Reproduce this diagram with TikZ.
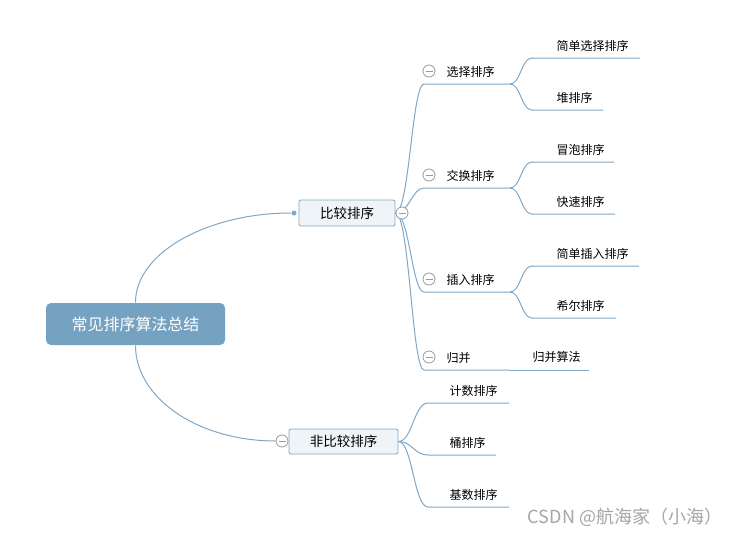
\documentclass[tikz,border=0pt]{standalone}
\usepackage{fontspec}
\newfontfamily\cjk{Noto Sans CJK SC}
\definecolor{linec}{HTML}{7FA8C8}
\definecolor{rootc}{HTML}{75A2C0}
\definecolor{subc}{HTML}{EEF4F8}
\definecolor{foldc}{HTML}{9A9A9A}
\definecolor{markc}{HTML}{A6A6A6}

\begin{document}
\begin{tikzpicture}[x=1pt,y=-1pt,line width=1pt,
  link/.style={draw=linec,line width=1pt},
  rootbox/.style={rounded corners=5pt,fill=rootc,text=white,font=\cjk\fontsize{16}{18}\selectfont,
    minimum width=179pt,minimum height=42pt,inner sep=0pt},
  subbox/.style={rounded corners=2pt,draw=linec,line width=0.8pt,fill=subc,
    font=\cjk\fontsize{13.5}{16}\selectfont,minimum height=26pt,inner sep=0pt},
  topic/.style={anchor=west,inner sep=0pt,font=\cjk\fontsize{12}{14}\selectfont},
  fold/.style={circle,draw=foldc,fill=white,line width=0.8pt,minimum size=12pt,inner sep=0pt,
    path picture={\draw[foldc,line width=0.8pt] ([xshift=-3.5pt]path picture bounding box.center)
      -- ([xshift=3.5pt]path picture bounding box.center);}}]
% ---------- 背景 ----------
\fill[white] (0,0) rectangle (740,538);
\useasboundingbox (0,0) rectangle (740,538);
% ---------- 中心主题与二级主题 ----------
\node[rootbox] (root) at (135.5,324) {常见排序算法总结};
\node[subbox,minimum width=96pt] (cmp) at (347,213) {比较排序};
\node[subbox,minimum width=109pt,minimum height=25pt] (ncmp) at (343.5,441.5) {非比较排序};
\node[circle,fill=linec,inner sep=0pt,minimum size=5pt] (cmp-dot) at (294,213) {};
\node[fold] (ncmp-fold) at (282,441) {};
\draw[link] (root.north) .. controls +(0,-50) and +(-86,0) .. (cmp-dot);
\draw[link] (root.south) .. controls +(0,53) and +(-77,0) .. (ncmp-fold.west);
% ---------- 比较排序的分支 ----------
\foreach \nm/\y/\txt in {sel/84/选择排序,swp/188/交换排序,ins/292/插入排序,mrg/370/归并} {
  \coordinate (\nm-a) at (424,\y);
  \coordinate (\nm-b) at (510,\y);
  \draw[link] (cmp.east) .. controls +(14,0) and +(-12,0) .. (\nm-a) -- (\nm-b);
  \node[fold] (\nm-fold) at (429,{\y-13}) {};
  \node[topic] (\nm) at (446,{\y-12}) {\txt};
}
\node[fold] (cmp-fold) at (402,213) {};
% 三级主题
\foreach \pa/\nm/\y/\xe/\txt in {sel/ssel/58/640/简单选择排序,sel/heap/110/603/堆排序,
    swp/bub/162/614/冒泡排序,swp/qck/214/615/快速排序,
    ins/sins/266/639/简单插入排序,ins/shl/318/616/希尔排序} {
  \coordinate (\nm-a) at (532,\y);
  \coordinate (\nm-b) at (\xe,\y);
  \draw[link] (\pa-b) .. controls +(11,0) and +(-11,0) .. (\nm-a) -- (\nm-b);
  \node[topic] (\nm) at (556,{\y-12}) {\txt};
}
% 归并 -> 归并算法（同一条线）
\coordinate (alg-b) at (589,370);
\draw[link] (mrg-b) -- (alg-b);
\node[topic] (alg) at (532,357) {归并算法};
% ---------- 非比较排序的分支 ----------
\foreach \nm/\y/\xe/\txt in {cnt/403/509/计数排序,bkt/455/496/桶排序,rdx/507/509/基数排序} {
  \coordinate (\nm-a) at (428,\y);
  \coordinate (\nm-b) at (\xe,\y);
  \draw[link] (ncmp.east) .. controls +(14,0) and +(-14,0) .. (\nm-a) -- (\nm-b);
  \node[topic] (\nm) at (449,{\y-12}) {\txt};
}
% 水印
\node[font=\cjk\fontsize{18}{20}\selectfont,text=markc,inner sep=0pt] (mark) at (625,517) {CSDN @航海家（小海）};
\end{tikzpicture}
\end{document}
